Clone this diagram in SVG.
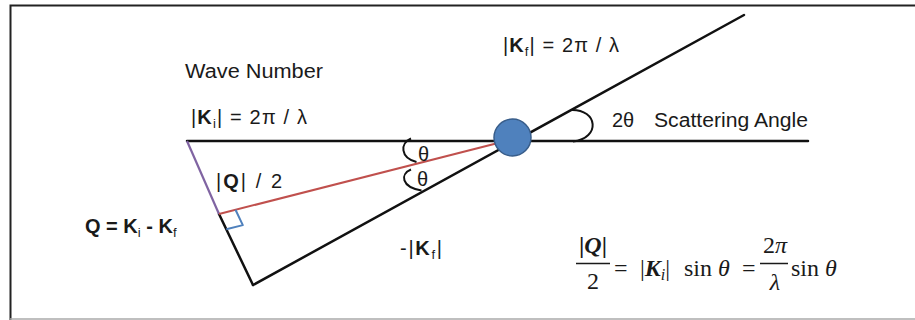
<svg xmlns="http://www.w3.org/2000/svg" width="915" height="320" viewBox="0 0 915 320">
<style>
.lbl{font-family:"Liberation Sans",Arial,sans-serif;font-size:20px;fill:#1a1a1a}
.math{font-family:"Liberation Serif","Times New Roman",serif;font-size:24px;fill:#1a1a1a}
.b{font-weight:bold}
.i{font-style:italic}
.sub{font-size:13px}
.ln{fill:none;stroke:#111;stroke-width:2.5;stroke-linecap:round}
.arc{fill:none;stroke:#111;stroke-width:2}
</style>
<rect width="915" height="320" fill="#fff"/>
<path d="M916 5.5 H10.5 V320" fill="none" stroke="#222" stroke-width="2"/>
<line x1="10" y1="319" x2="915" y2="319" stroke="#aaa" stroke-width="1.5"/>

<g id="connectors">
  <line class="ln" x1="187" y1="141" x2="808" y2="141"/>
  <line class="ln" x1="253" y1="285" x2="744" y2="15"/>
  <line x1="219" y1="214" x2="253" y2="285" class="ln"/>
  <line x1="187" y1="141" x2="219" y2="214" stroke="#8064a2" stroke-width="2.2"/>
  <line x1="219" y1="214" x2="500" y2="142.5" stroke="#c0504d" stroke-width="2"/>
  <path d="M235.5 209.8 L242.8 225.1 L226.3 229.3" fill="none" stroke="#4f81bd" stroke-width="2" stroke-linejoin="round"/>
  <path class="arc" d="M411 138.5 C400 143, 400 158, 416.5 162"/>
  <path class="arc" d="M411 169.5 C400 174, 401 187, 421.5 190.5"/>
  <path class="arc" d="M571 110 C598 109, 601 138, 573 141.5"/>
</g>

<g id="scatterer">
  <circle cx="512.5" cy="137.5" r="18.5" fill="#4f81bd" stroke="#385d8a" stroke-width="1.5"/>
</g>

<g id="labels">
  <text class="lbl" x="185" y="78" textLength="138" lengthAdjust="spacingAndGlyphs">Wave Number</text>
  <text class="lbl" x="191" y="124" textLength="116" lengthAdjust="spacing">|<tspan class="b">K</tspan><tspan class="sub" dy="4">i</tspan><tspan dy="-4">| = 2π / λ</tspan></text>
  <text class="lbl" x="503" y="52" textLength="116" lengthAdjust="spacing">|<tspan class="b">K</tspan><tspan class="sub" dy="4">f</tspan><tspan dy="-4">| = 2π / λ</tspan></text>
  <text class="lbl" x="612" y="127">2θ</text>
  <text class="lbl" x="654" y="127" textLength="154" lengthAdjust="spacingAndGlyphs">Scattering Angle</text>
  <text class="lbl" x="216" y="188" textLength="66" lengthAdjust="spacing">|<tspan class="b">Q</tspan>| / 2</text>
  <text class="lbl b" x="85" y="233" font-size="18.5">Q = K<tspan class="sub" dy="4" font-weight="normal">i</tspan><tspan dy="-4"> - K</tspan><tspan class="sub" dy="4" font-weight="normal">f</tspan></text>
  <text class="lbl" x="400" y="255" textLength="42" lengthAdjust="spacing">-|<tspan class="b">K</tspan><tspan class="sub" dy="4">f</tspan><tspan dy="-4">|</tspan></text>
  <text class="lbl" x="418" y="161" font-family="Liberation Serif" font-size="20">θ</text>
  <text class="lbl" x="417" y="186" font-family="Liberation Serif" font-size="20">θ</text>
</g>

<g id="formula">
  <text class="math b" x="593" y="253" text-anchor="middle">|<tspan class="i">Q</tspan>|</text>
  <line x1="576" y1="263.5" x2="610" y2="263.5" stroke="#1a1a1a" stroke-width="1.5"/>
  <text class="math" x="593" y="289" text-anchor="middle">2</text>
  <text class="math" x="614" y="276">=</text>
  <text class="math" x="640" y="276">|<tspan class="b i">K</tspan><tspan class="i" font-size="16" dy="4">i</tspan><tspan dy="-4">|</tspan></text>
  <text class="math" x="684" y="276">sin <tspan class="i">θ</tspan></text>
  <text class="math" x="742" y="276">=</text>
  <line x1="760" y1="263.5" x2="788" y2="263.5" stroke="#1a1a1a" stroke-width="1.5"/>
  <text class="math" x="775" y="253" text-anchor="middle">2<tspan class="i">π</tspan></text>
  <text class="math i" x="775" y="290" text-anchor="middle">λ</text>
  <text class="math" x="791" y="276">sin <tspan class="i">θ</tspan></text>
</g>
</svg>
